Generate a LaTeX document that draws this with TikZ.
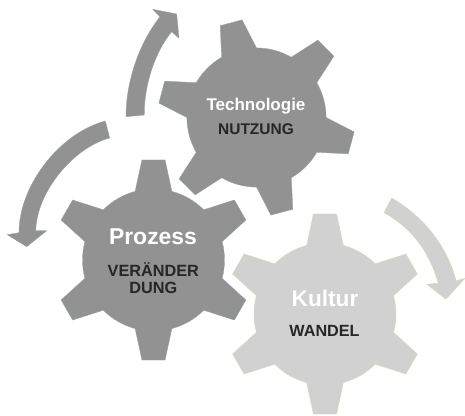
\documentclass[tikz,border=0pt]{standalone}
\usepackage{fontspec}
\setmainfont{Liberation Sans}
\definecolor{geardark}{HTML}{929292}
\definecolor{gearlight}{HTML}{D1D1D1}
\definecolor{edgedark}{HTML}{8FA3AB}
\definecolor{edgelight}{HTML}{DDD9B8}
\definecolor{inkdark}{HTML}{262626}
\newcommand{\pxfont}[2]{\fontsize{#1}{#2}\selectfont\bfseries}
\tikzset{
  darkpart/.style={fill=geardark,draw=edgedark,line width=0.25pt,line join=round},
  lightpart/.style={fill=gearlight,draw=edgelight,line width=0.3pt,line join=round},
  whitelabel/.style={text=white,inner sep=0pt,anchor=base},
  inklabel/.style={text=inkdark,inner sep=0pt,anchor=base,align=center}
}
% centre x, centre y (pixels, downward), tip radius, rotation, style
\newcommand{\gearshape}[5]{%
  \path[#5,shift={(#1,-#2)},rotate=#4,scale=#3/100]
    (75:71)
    \foreach \a in {90,150,210,270,330,390}{
      -- ({\a-15}:71) -- ({\a-6.6}:100.7) -- ({\a+6.6}:100.7) -- ({\a+15}:71)
      arc[start angle=\a+15,end angle=\a+45,radius=71]
    } -- cycle;}
\begin{document}
\begin{tikzpicture}[x=0.75pt,y=0.75pt]
\useasboundingbox (0,0) rectangle (465,-416);
\fill[white] (0,0) rectangle (465,-416);
% gears
\gearshape{256.5}{117.5}{98}{15}{darkpart}
\gearshape{153.5}{260}{100}{0}{darkpart}
\gearshape{325}{314}{100}{0}{lightpart}
% curved arrows
\path[darkpart] (126,-116.7) .. controls (126,-80) and (140,-42) .. (160,-16.7)
  -- (152.7,-9.3) -- (176.7,-14) -- (179,-38.3) -- (171.7,-31.7)
  .. controls (155,-52) and (144,-85) .. (144.3,-115) -- cycle;
\path[darkpart] (105.3,-121) .. controls (60,-133) and (19,-185) .. (19,-232.7)
  -- (7.3,-234.7) -- (26.7,-246.7) -- (46.7,-230.7) -- (35.7,-230.7)
  .. controls (37,-190) and (75,-147) .. (109.7,-138) -- cycle;
\path[lightpart] (391.7,-198) .. controls (430,-220) and (450,-255) .. (456,-280.7)
  -- (465,-278.3) -- (446,-299.3) -- (426.7,-284.3) -- (438.3,-283.3)
  .. controls (430,-255) and (415,-230) .. (384,-212.7) -- cycle;
% labels
\node[whitelabel] (tech) at (256,-110.7) {\pxfont{12.75pt}{15pt}Technologie};
\node[inklabel] (nutz) at (256,-135) {\pxfont{11.6pt}{14pt}NUTZUNG};
\node[whitelabel] (proz) at (153,-245) {\pxfont{17.2pt}{20pt}Prozess};
\node[inklabel,anchor=center,font=\pxfont{12.2pt}{12.5pt}] (ver) at (153.3,-278) {VERÄNDER\\DUNG};
\node[whitelabel] (kult) at (325,-306.7) {\pxfont{17pt}{20pt}Kultur};
\node[inklabel] (wand) at (324.5,-336.7) {\pxfont{12.15pt}{14pt}WANDEL};
\end{tikzpicture}
\end{document}
